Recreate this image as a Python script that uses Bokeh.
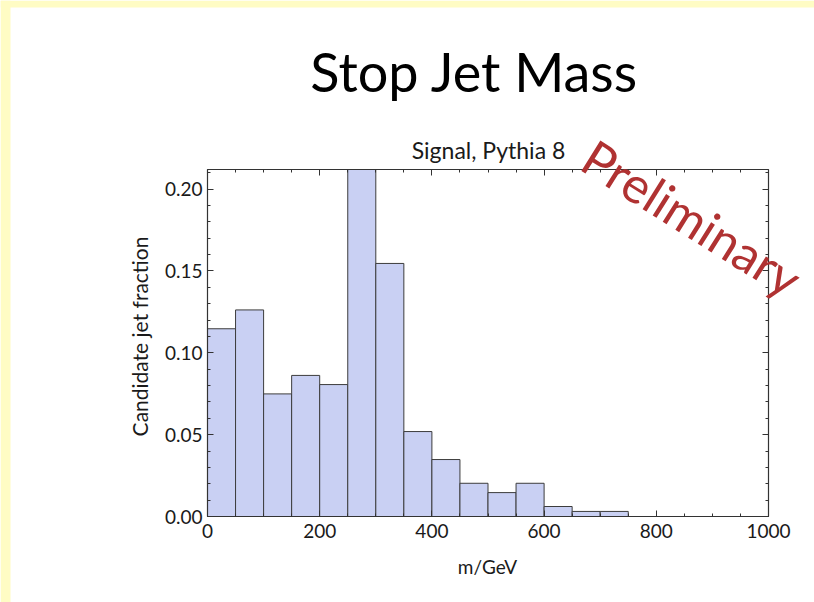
import math
from bokeh.plotting import figure
from bokeh.models import (Range1d, SingleIntervalTicker, NumeralTickFormatter,
                          LinearAxis, Label, BoxAnnotation)
from bokeh.embed import file_html
from bokeh.resources import INLINE

# Histogram of candidate stop-jet masses (bin edges in GeV, normalised fractions)
bin_left = [0, 50, 100, 150, 200, 250, 300, 350, 400, 450, 500, 550, 600, 650, 700]
bin_right = [50, 100, 150, 200, 250, 300, 350, 400, 450, 500, 550, 600, 650, 700, 750]
fraction = [0.1147, 0.1262, 0.0749, 0.0862, 0.0806, 0.2120, 0.1546, 0.0519,
            0.0348, 0.0203, 0.0146, 0.0203, 0.0061, 0.0031, 0.0031]

mass_span = (0, 1000)
frac_span = (0, 0.212)

title_text = "Stop Jet Mass"
subtitle_text = "Signal, Pythia 8"
x_label = "m/GeV"
y_label = "Candidate jet fraction"
stamp_text = "Preliminary"

FONT = "Lato"
INK = "#1a1a1a"
FRAME = "#333333"
SLIDE_EDGE = "#FFFCC4"

W, H = 814, 602
# Pixel box of the histogram panel on the page
BOX_L, BOX_R, BOX_T, BOX_B = 207, 768, 169, 516

# The drawing area spans the whole page so that the slide texts and the
# rotated stamp are free to cross the panel edges; the panel itself is
# outlined by four axes pinned to the data limits.
px_x = (BOX_R - BOX_L) / (mass_span[1] - mass_span[0])
px_y = (BOX_B - BOX_T) / (frac_span[1] - frac_span[0])
x_range = Range1d(mass_span[0] - BOX_L / px_x, mass_span[1] + (W - BOX_R) / px_x)
y_range = Range1d(frac_span[0] - (H - BOX_B) / px_y, frac_span[1] + BOX_T / px_y)

p = figure(width=W, height=H, output_backend="svg", toolbar_location=None,
           x_range=x_range, y_range=y_range,
           x_axis_location=None, y_axis_location=None,
           min_border=0)
p.title.visible = False
p.grid.visible = False
p.outline_line_color = None
p.background_fill_color = "white"
p.border_fill_color = "white"

# Pale slide edge along the top and left of the page
p.add_layout(BoxAnnotation(right=10, right_units="screen",
                           fill_color=SLIDE_EDGE, fill_alpha=1, line_color=None,
                           level="underlay"))
p.add_layout(BoxAnnotation(bottom=H - 7, bottom_units="screen",
                           fill_color=SLIDE_EDGE, fill_alpha=1, line_color=None,
                           level="underlay"))

p.quad(left=bin_left, right=bin_right, bottom=0, top=fraction,
       fill_color="#C9D0F3", line_color="#3c3c3c", line_width=1)


def make_axis(ticker, bounds, at, labels):
    ax = LinearAxis(ticker=ticker, bounds=bounds, fixed_location=at)
    ax.axis_line_color = FRAME
    ax.axis_line_width = 1.2
    ax.major_tick_line_color = FRAME
    ax.minor_tick_line_color = FRAME
    ax.major_tick_in = 6
    ax.major_tick_out = 0
    ax.minor_tick_in = 3
    ax.minor_tick_out = 0
    ax.major_label_text_font = FONT
    if labels:
        ax.major_label_text_font_size = "19px"
        ax.major_label_text_color = INK
    else:
        ax.major_label_text_font_size = "0px"
        ax.major_label_text_color = None
        ax.major_label_standoff = 0
    return ax


xt = SingleIntervalTicker(interval=200, num_minor_ticks=4)
yt = SingleIntervalTicker(interval=0.05, num_minor_ticks=5)

bx = make_axis(xt, mass_span, frac_span[0], True)
bx.major_label_standoff = 7
p.add_layout(bx, "below")
ly = make_axis(yt, frac_span, mass_span[0], True)
ly.formatter = NumeralTickFormatter(format="0.00")
ly.major_label_standoff = 5
p.add_layout(ly, "left")
p.add_layout(make_axis(xt, mass_span, frac_span[1], False), "above")
p.add_layout(make_axis(yt, frac_span, mass_span[1], False), "right")


# Texts placed in page pixels (y measured down from the top edge)
def add_text(x, y, text, size, color=INK, align="center", angle=0.0,
             baseline="alphabetic"):
    p.add_layout(Label(x=x, y=H - y, x_units="screen", y_units="screen",
                       text=text, text_font=FONT, text_font_size=f"{size}px",
                       text_color=color, text_align=align, angle=angle,
                       text_baseline=baseline))


add_text(474, 71, title_text, 54, color="black")
add_text(488, 149, subtitle_text, 23)
add_text(487, 566, x_label, 19)
add_text(139, 336, y_label, 21, angle=math.pi / 2, baseline="middle")
add_text(587, 152, stamp_text, 50, color="#B03232", align="left",
         angle=-32 * math.pi / 180)

open("out.html", "w").write(file_html(p, INLINE))
